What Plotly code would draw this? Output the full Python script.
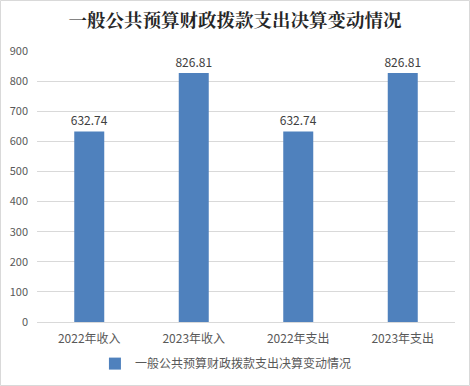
import plotly.graph_objects as go

categories = ["2022年收入", "2023年收入", "2022年支出", "2023年支出"]
values = [632.74, 826.81, 632.74, 826.81]
value_labels = ["632.74", "826.81", "632.74", "826.81"]
series_name = "一般公共预算财政拨款支出决算变动情况"
title_text = "一般公共预算财政拨款支出决算变动情况"
y_ticks = [0, 100, 200, 300, 400, 500, 600, 700, 800, 900]

font_family = "Noto Sans CJK SC, Microsoft YaHei, sans-serif"

fig = go.Figure()
fig.add_trace(go.Bar(
    x=categories, y=values, name=series_name,
    marker=dict(color="#4F81BD", line=dict(width=0)),
    text=value_labels, textposition="outside", constraintext="none",
    textfont=dict(size=12, color="#404040", family=font_family),
    cliponaxis=False,
))

fig.update_layout(
    width=470, height=386,
    paper_bgcolor="white", plot_bgcolor="white",
    margin=dict(l=37, r=15, t=51, b=64, autoexpand=False),
    bargap=0.713,
    title=dict(text=title_text, x=0.5, xanchor="center", y=0.948, yanchor="middle",
               font=dict(size=18.5, color="#262626", family="Noto Serif CJK SC, Noto Sans CJK SC, serif", weight="bold")),
    showlegend=True,
    legend=dict(orientation="h", x=0.452, xanchor="center", y=-0.1, yanchor="top",
                font=dict(size=12, color="#595959", family=font_family)),
    font=dict(family=font_family),
    shapes=[dict(type="rect", xref="paper", yref="paper", x0=-36.5/418, x1=1+14.5/418,
                 y0=-63.5/271, y1=1+50.5/271, line=dict(color="#D9D9D9", width=1))],
)
fig.update_xaxes(showgrid=False, showline=True, linecolor="#D9D9D9", ticks="", automargin=False,
                 ticklabelstandoff=6,
                 tickfont=dict(size=12, color="#595959", family=font_family))
fig.update_yaxes(range=[0, 900], tickvals=y_ticks, showgrid=True, gridcolor="#D9D9D9",
                 zeroline=False, showline=False, ticks="", ticklabelstandoff=8, automargin=False,
                 tickfont=dict(size=11, color="#595959", family=font_family))

fig.write_html("out.html", config={"displayModeBar": False},
               post_script="document.body.style.margin='0';document.body.style.overflow='hidden';")
